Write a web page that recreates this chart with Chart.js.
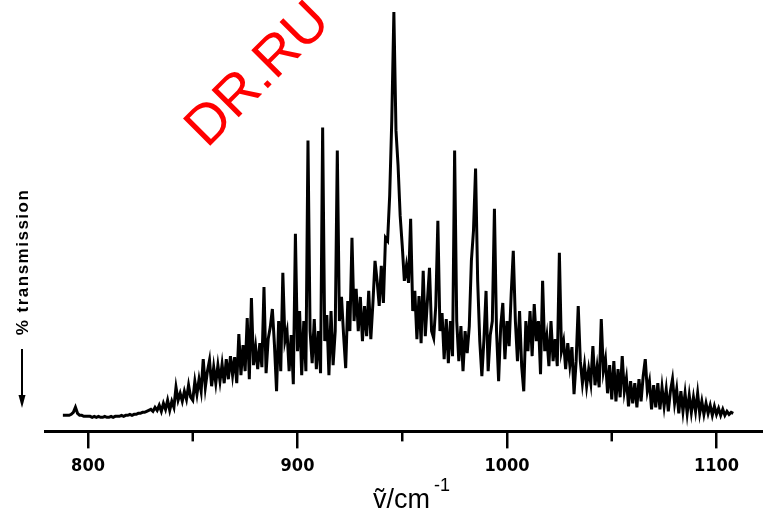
<!DOCTYPE html>
<html>
<head>
<meta charset="utf-8">
<script src="https://cdn.jsdelivr.net/npm/chart.js@4.4.0/dist/chart.umd.min.js"></script>
<style>
  html, body { margin: 0; padding: 0; background: #fff; }
</style>
</head>
<body>
<canvas id="irChart" width="763" height="514"></canvas>
<script>
// IR band, transmission trace (1 cm-1 steps, arbitrary height units)
var seg788 = [16, 16, 16, 16, 17, 19, 24, 18, 16, 16,
              15, 15, 15, 15, 14, 15, 14, 15, 14, 14,
              15, 14, 14, 15, 14, 15, 15, 15, 16, 15,
              16, 16, 17, 16, 17, 17, 18, 18, 19, 19,
              20, 21];
var seg830 = [22, 20, 24, 21, 26, 20, 28, 22, 31, 21,
              30, 24, 44, 31, 38, 30, 40, 32, 46, 34,
              31, 50, 37, 52, 40, 72, 44, 60, 71, 45,
              64, 48, 66, 50, 67, 48, 72, 52, 75, 56];
var seg870 = [74, 48, 97, 56, 86, 60, 113, 52, 133, 66,
              84, 62, 88, 64, 144, 58, 92, 104, 122, 86,
              40, 110, 60, 158, 90, 100, 60, 96, 47, 197,
              80, 120, 56, 110, 60, 290, 100, 68, 112, 62];
var seg910 = [100, 58, 303, 90, 116, 56, 120, 66, 100, 280,
              110, 134, 96, 63, 130, 100, 193, 110, 142, 100,
              134, 90, 125, 95, 140, 92, 128, 170, 150, 125,
              165, 128, 193, 190, 235, 310, 418, 300, 265, 215];
var seg950 = [185, 150, 165, 148, 212, 120, 140, 92, 135, 88,
              160, 95, 130, 163, 100, 93, 125, 210, 100, 118,
              72, 112, 68, 110, 75, 280, 110, 70, 105, 60,
              100, 78, 105, 170, 200, 262, 150, 90, 55, 92];
var seg990 = [140, 60, 96, 110, 222, 100, 50, 105, 128, 72,
              110, 85, 137, 180, 110, 70, 120, 65, 40, 110,
              80, 120, 75, 127, 90, 110, 57, 150, 80, 95,
              65, 110, 70, 92, 65, 178, 80, 90, 62, 88];
var seg1030 = [66, 84, 37, 70, 125, 70, 48, 66, 45, 62,
               48, 85, 46, 64, 44, 112, 60, 72, 38, 66,
               32, 70, 30, 62, 34, 75, 40, 53, 25, 50,
               28, 48, 24, 52, 30, 55, 72, 40, 50, 22];
var seg1070 = [46, 24, 48, 22, 44, 25, 42, 20, 40, 52,
               28, 42, 18, 40, 20, 38, 18, 36, 19, 34,
               20, 38, 18, 30, 17, 28, 18, 26, 16, 25,
               17, 23, 16, 22, 16, 20, 17, 19, 18];

var segStarts = [788, 830, 870, 910, 950, 990, 1030, 1070];
var segments = [seg788, seg830, seg870, seg910, seg950, seg990, seg1030, seg1070];

var majorTicks = [800, 900, 1000, 1100];
var minorTicks = [850, 950, 1050];

var points = [];
segments.forEach(function (seg, k) {
  seg.forEach(function (h, i) {
    points.push({ x: segStarts[k] + i, y: h });
  });
});

var labelFont = '"Liberation Sans Narrow", "DejaVu Sans Condensed", sans-serif';

// minor ticks, axis labels and the red stamp
var extras = {
  id: 'extras',
  afterDraw: function (chart) {
    var ctx = chart.ctx;
    var xs = chart.scales.x;
    var bottom = chart.chartArea.bottom;
    ctx.save();
    ctx.strokeStyle = '#000';
    ctx.lineWidth = 2.5;
    minorTicks.forEach(function (v) {
      var px = xs.getPixelForValue(v);
      ctx.beginPath();
      ctx.moveTo(px, bottom);
      ctx.lineTo(px, bottom + 10);
      ctx.stroke();
    });

    // x title
    ctx.fillStyle = '#000';
    ctx.textBaseline = 'alphabetic';
    ctx.textAlign = 'left';
    ctx.font = '27px "Liberation Sans", "DejaVu Sans", sans-serif';
    ctx.fillText('\u1E7D/cm', 373, 508);
    ctx.font = '18px "Liberation Sans", sans-serif';
    ctx.fillText('-1', 434, 491);

    // y title
    ctx.save();
    ctx.translate(23, 262);
    ctx.rotate(-Math.PI / 2);
    ctx.font = 'bold 17px "Liberation Sans", sans-serif';
    ctx.letterSpacing = '1.5px';
    ctx.textAlign = 'center';
    ctx.textBaseline = 'middle';
    ctx.fillText('% transmission', 0, 0);
    ctx.restore();

    // arrow
    ctx.lineWidth = 2;
    ctx.beginPath();
    ctx.moveTo(22, 349);
    ctx.lineTo(22, 398);
    ctx.stroke();
    ctx.beginPath();
    ctx.moveTo(22, 408);
    ctx.lineTo(18.5, 395);
    ctx.lineTo(25.5, 395);
    ctx.closePath();
    ctx.fill();

    // stamp
    ctx.save();
    ctx.translate(207, 149);
    ctx.rotate(-45 * Math.PI / 180);
    ctx.fillStyle = '#ff0000';
    ctx.font = '56px "Liberation Sans", sans-serif';
    ctx.textAlign = 'left';
    ctx.textBaseline = 'alphabetic';
    ctx.fillText('DR.RU', 0, 0);
    ctx.restore();

    ctx.restore();
  }
};

var ctx = document.getElementById('irChart');
var irChart = new Chart(ctx, {
  type: 'line',
  data: {
    datasets: [{
      label: '% transmission',
      data: points,
      borderColor: '#000',
      borderWidth: 3,
      borderJoinStyle: 'miter',
      pointRadius: 0,
      tension: 0,
      fill: false
    }]
  },
  options: {
    responsive: false,
    animation: false,
    devicePixelRatio: 1,
    layout: { padding: { left: 45, right: 0, top: 10, bottom: 30 } },
    plugins: {
      legend: { display: false },
      tooltip: { enabled: false }
    },
    scales: {
      x: {
        type: 'linear',
        min: 779.47,
        max: 1122.2,
        afterBuildTicks: function (scale) {
          scale.ticks = majorTicks.map(function (v) { return { value: v }; });
        },
        grid: {
          display: true,
          drawOnChartArea: false,
          drawTicks: true,
          tickLength: 17,
          color: '#000',
          lineWidth: 2.5
        },
        border: { display: true, color: '#000', width: 3 },
        ticks: {
          color: '#000',
          padding: 7,
          autoSkip: false,
          maxRotation: 0,
          callback: function (v) { return String(v); },
          font: { family: labelFont, size: 18, weight: 'bold' }
        }
      },
      y: { display: false, min: 0, max: 420 }
    }
  },
  plugins: [extras]
});
</script>
</body>
</html>
